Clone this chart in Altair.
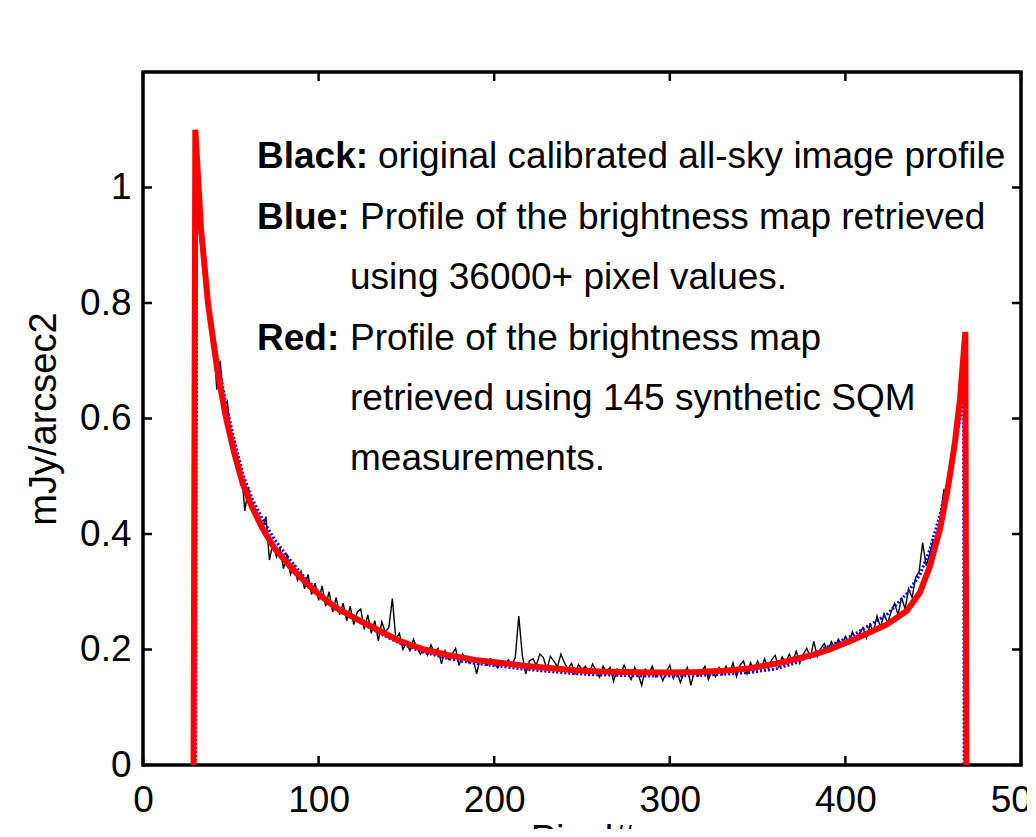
import altair as alt
import pandas as pd

# ---------------- data ----------------
# Black: original calibrated all-sky image profile (sampled every 2 pixels from 32 to 466)
black_x = list(range(32, 467, 2))
black_y = [
    0.95, 0.87, 0.85, 0.77, 0.75, 0.65, 0.70, 0.62, 0.63, 0.57,
    0.56, 0.52, 0.51, 0.44, 0.48, 0.45, 0.43, 0.42, 0.41, 0.43,
    0.355, 0.385, 0.36, 0.375, 0.34, 0.365, 0.33, 0.345, 0.32, 0.335,
    0.305, 0.33, 0.295, 0.315, 0.285, 0.31, 0.275, 0.30, 0.265, 0.29,
    0.26, 0.28, 0.25, 0.275, 0.243, 0.265, 0.27, 0.235, 0.26, 0.228,
    0.25, 0.215, 0.248, 0.23, 0.238, 0.288, 0.218, 0.228, 0.2, 0.212,
    0.198, 0.218, 0.203, 0.192, 0.202, 0.19, 0.208, 0.194, 0.202, 0.175,
    0.198, 0.183, 0.192, 0.202, 0.172, 0.192, 0.183, 0.176, 0.184, 0.158,
    0.184, 0.178, 0.173, 0.184, 0.176, 0.168, 0.178, 0.172, 0.182, 0.173,
    0.186, 0.258, 0.19, 0.158, 0.18, 0.184, 0.173, 0.192, 0.186, 0.166,
    0.188, 0.18, 0.17, 0.192, 0.177, 0.166, 0.176, 0.158, 0.174, 0.165,
    0.171, 0.156, 0.175, 0.164, 0.152, 0.171, 0.161, 0.169, 0.145, 0.166,
    0.157, 0.173, 0.159, 0.148, 0.169, 0.157, 0.138, 0.166, 0.157, 0.171,
    0.153, 0.163, 0.146, 0.161, 0.173, 0.15, 0.163, 0.143, 0.159, 0.169,
    0.138, 0.163, 0.154, 0.161, 0.171, 0.148, 0.164, 0.153, 0.169, 0.157,
    0.171, 0.158, 0.177, 0.153, 0.173, 0.18, 0.158, 0.177, 0.164, 0.18,
    0.166, 0.184, 0.168, 0.182, 0.19, 0.17, 0.187, 0.176, 0.192, 0.18,
    0.197, 0.176, 0.192, 0.202, 0.186, 0.214, 0.188, 0.202, 0.21, 0.196,
    0.214, 0.203, 0.218, 0.208, 0.223, 0.21, 0.231, 0.216, 0.228, 0.238,
    0.22, 0.243, 0.23, 0.258, 0.238, 0.262, 0.246, 0.265, 0.28, 0.26,
    0.29, 0.27, 0.305, 0.29, 0.325, 0.335, 0.385, 0.345, 0.365, 0.39,
    0.38, 0.425, 0.475, 0.46, 0.525, 0.565, 0.60, 0.64,
]

# Blue: profile from the brightness map retrieved with 36000+ pixel values
blue_x = [30, 30.5, 33, 37, 42, 47, 52, 57, 62, 68, 75, 84, 92, 101, 110, 122,
          133, 146, 160, 174, 189, 203, 217, 231, 246, 260, 274, 288, 302, 316,
          330, 345, 360, 373, 385, 404.5, 423.5, 435, 442.5, 448, 454, 458.5,
          461.5, 465, 467.3, 467.6]
blue_y = [0, 0.96, 0.91, 0.805, 0.712, 0.628, 0.562, 0.502, 0.462, 0.426, 0.39, 0.354,
          0.325, 0.297, 0.273, 0.25, 0.231, 0.211, 0.195, 0.184, 0.176, 0.171,
          0.166, 0.162, 0.158, 0.156, 0.155, 0.154, 0.154, 0.155, 0.157, 0.16,
          0.166, 0.178, 0.198, 0.225, 0.26, 0.297, 0.33, 0.372, 0.435, 0.495,
          0.54, 0.595, 0.64, 0]

# Red: profile from the brightness map retrieved with 145 synthetic SQM measurements
red_x = [28.8, 29.8, 33, 37, 42, 47, 52, 57, 62, 68, 75, 84, 92, 101, 110, 122,
         133, 146, 160, 174, 189, 203, 217, 231, 246, 260, 274, 288, 302, 316,
         330, 345, 363, 382, 391, 404.5, 423.5, 435, 442.5, 448.2, 453.9, 458.6,
         462.4, 465.3, 468.3, 468.9]
red_y = [0, 1.10, 0.93, 0.80, 0.69, 0.605, 0.54, 0.485, 0.447, 0.41, 0.375, 0.343,
         0.318, 0.293, 0.272, 0.252, 0.235, 0.215, 0.2, 0.19, 0.182, 0.177, 0.172,
         0.168, 0.164, 0.162, 0.161, 0.160, 0.160, 0.161, 0.163, 0.167, 0.177,
         0.191, 0.2, 0.217, 0.243, 0.267, 0.299, 0.345, 0.409, 0.484, 0.559,
         0.635, 0.75, 0]

x_ticks = [0, 100, 200, 300, 400, 500]
y_ticks = [0, 0.2, 0.4, 0.6, 0.8, 1]

notes_bold = ["Black:", "Blue:", "Red:"]
notes_text = [
    "original calibrated all-sky image profile",
    "Profile of the brightness map retrieved",
    "using 36000+ pixel values.",
    "Profile of the brightness map",
    "retrieved using 145 synthetic SQM",
    "measurements.",
]

# ---------------- chart ----------------
W, H = 878, 693
FONT = "Liberation Sans"

xs = alt.Scale(domain=[0, 500], nice=False, zero=False)
ys = alt.Scale(domain=[0, 1.2], nice=False, zero=False)

x_axis = alt.Axis(values=x_ticks, format="d", title="Pixel#", grid=False,
                  ticks=False, tickSize=0, domain=False, labelFlush=False,
                  labelOverlap=False, labelPadding=17, labelFontSize=37,
                  labelFont=FONT, labelColor="black", titleFont=FONT,
                  titleFontSize=38, titleFontWeight="normal", titleColor="black",
                  titlePadding=3)
y_axis = alt.Axis(values=y_ticks, format="~g", title="mJy/arcsec2", grid=False,
                  ticks=False, tickSize=0, domain=False, labelFlush=False,
                  labelOverlap=False, labelPadding=12, labelFontSize=37,
                  labelFont=FONT, labelColor="black", titleFont=FONT,
                  titleFontSize=38, titleFontWeight="normal", titleColor="black",
                  titlePadding=16)

def X(field):
    return alt.X(field, type="quantitative", scale=xs, axis=x_axis)

def Y(field):
    return alt.Y(field, type="quantitative", scale=ys, axis=y_axis)

df_black = pd.DataFrame({"x": black_x, "y": black_y, "i": range(len(black_x))})
df_blue = pd.DataFrame({"x": blue_x, "y": blue_y, "i": range(len(blue_x))})
df_red = pd.DataFrame({"x": red_x, "y": red_y, "i": range(len(red_x))})

black = alt.Chart(df_black).mark_line(color="black", strokeWidth=1.4, clip=True).encode(
    x=X("x"), y=Y("y"), order="i:Q")
blue = alt.Chart(df_blue).mark_line(color="#0000ff", strokeWidth=3,
                                    strokeDash=[2, 2], clip=True).encode(
    x=X("x"), y=Y("y"), order="i:Q")
red = alt.Chart(df_red).mark_line(color="#ff0000", strokeWidth=6, clip=True).encode(
    x=X("x"), y=Y("y"), order="i:Q")

TL = 9
df_xt = pd.DataFrame({"v": x_ticks})
df_yt = pd.DataFrame({"v": y_ticks})
xt_bottom = alt.Chart(df_xt).mark_rule(color="black", strokeWidth=2.5).encode(
    x=X("v"), y=alt.value(H), y2=alt.value(H - TL))
xt_top = alt.Chart(df_xt).mark_rule(color="black", strokeWidth=2.5).encode(
    x=X("v"), y=alt.value(0), y2=alt.value(TL))
yt_left = alt.Chart(df_yt).mark_rule(color="black", strokeWidth=2.5).encode(
    y=Y("v"), x=alt.value(0), x2=alt.value(TL))
yt_right = alt.Chart(df_yt).mark_rule(color="black", strokeWidth=2.5).encode(
    y=Y("v"), x=alt.value(W - TL), x2=alt.value(W))

# annotation block (pixel positions inside the plot area)
bold_pos = [(114, 96), (114, 157), (114, 278)]
text_pos = [(235, 96), (217, 157), (207, 217), (207, 278), (207, 338), (207, 398)]

texts = []
for s, (px, py) in zip(notes_bold, bold_pos):
    texts.append(alt.Chart(pd.DataFrame({"t": [s]})).mark_text(
        align="left", baseline="alphabetic", font=FONT, fontSize=37,
        fontWeight="bold", color="black").encode(
        text="t:N", x=alt.value(px), y=alt.value(py)))
for s, (px, py) in zip(notes_text, text_pos):
    texts.append(alt.Chart(pd.DataFrame({"t": [s]})).mark_text(
        align="left", baseline="alphabetic", font=FONT, fontSize=37,
        fontWeight="normal", color="black").encode(
        text="t:N", x=alt.value(px), y=alt.value(py)))

chart = alt.layer(black, blue, red, xt_bottom, xt_top, yt_left, yt_right, *texts).properties(
    width=W, height=H,
    autosize=alt.AutoSizeParams(type="none"),
    padding={"left": 135, "top": 64, "right": 6, "bottom": 64},
    background="white",
).configure_view(stroke="black", strokeWidth=3.5)

chart.save("out.html", embed_options={"renderer": "svg", "actions": False})
